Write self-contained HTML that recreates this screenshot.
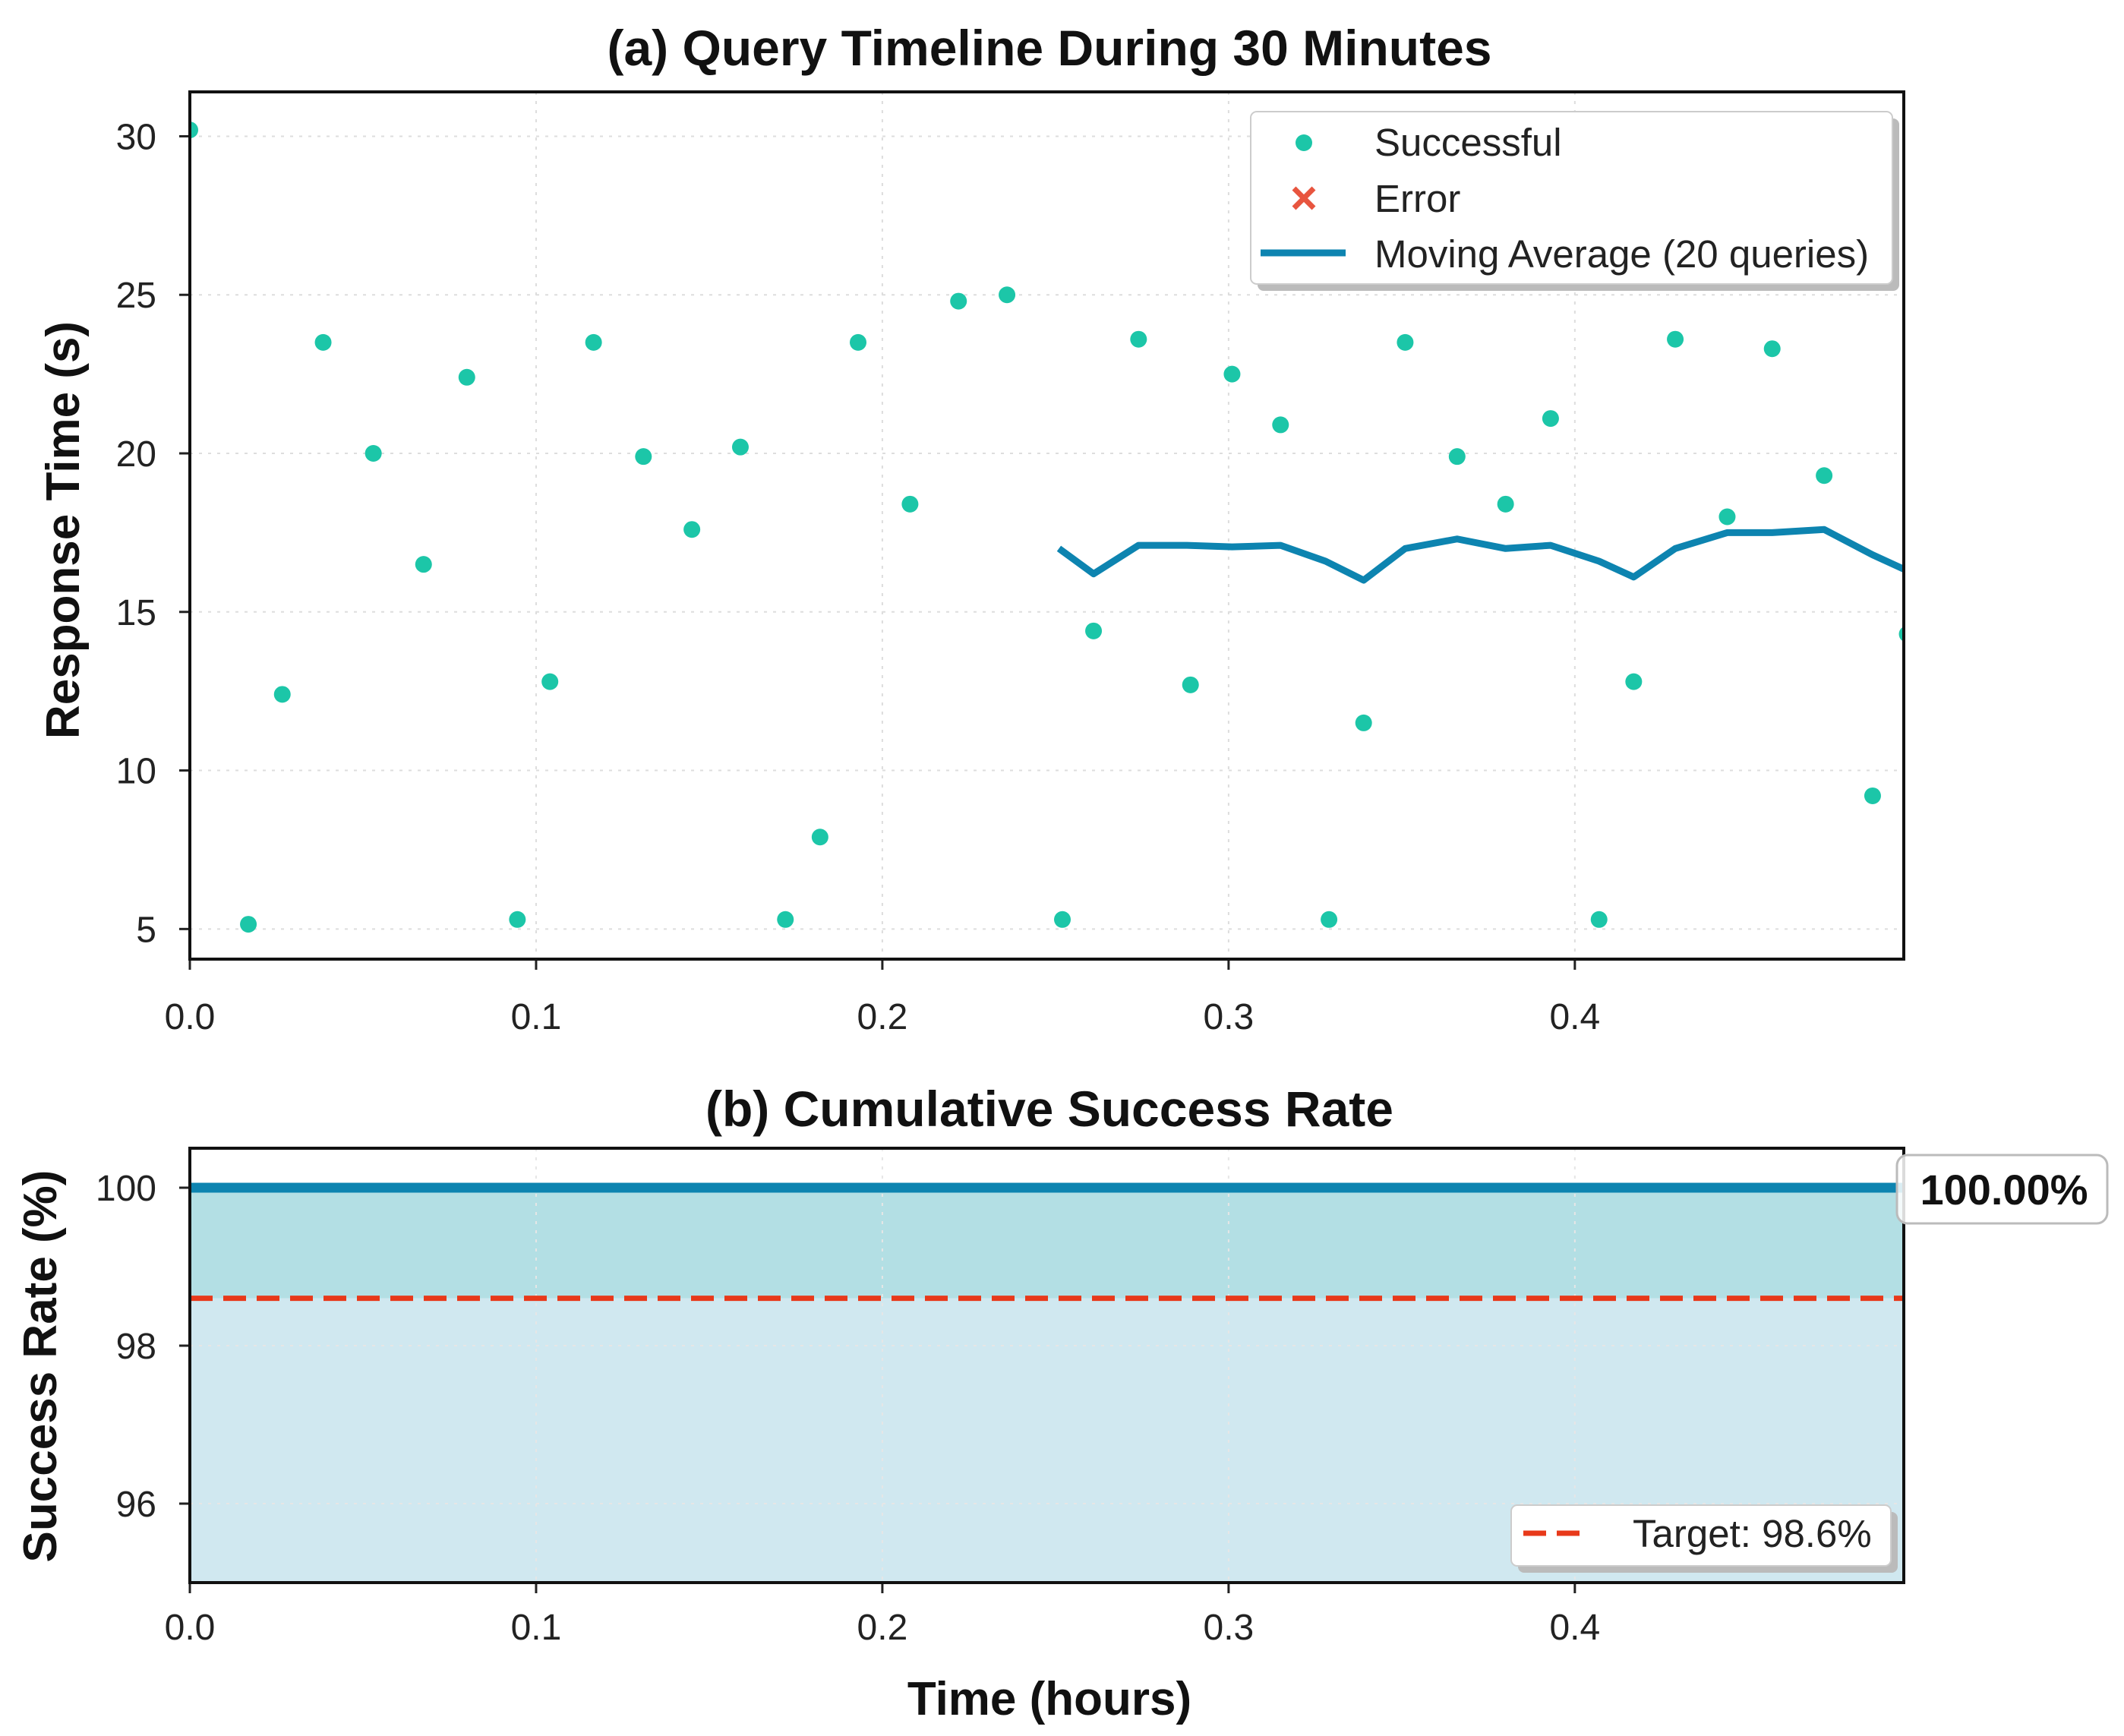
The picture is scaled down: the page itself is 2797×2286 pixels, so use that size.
<!DOCTYPE html>
<html><head><meta charset="utf-8"><style>
html,body{margin:0;padding:0;background:#fff}
svg{display:block;font-family:"Liberation Sans",Arial,sans-serif}
</style></head><body>
<svg id="chart" width="2797" height="2286" viewBox="0 0 2797 2286" xmlns="http://www.w3.org/2000/svg">
<rect width="2797" height="2286" fill="#fff"/>
</svg>
<script>
const timesA=[0,0.0169,0.0267,0.0385,0.053,0.0675,0.080,0.0946,0.104,0.1166,0.131,0.145,0.159,0.172,0.182,0.193,0.208,0.222,0.236,0.252,0.261,0.274,0.289,0.301,0.315,0.329,0.339,0.351,0.366,0.380,0.393,0.407,0.417,0.429,0.444,0.457,0.472,0.486,0.496];
const respA=[30.2,5.15,12.4,23.5,20.0,16.5,22.4,5.3,12.8,23.5,19.9,17.6,20.2,5.3,7.9,23.5,18.4,24.8,25.0,5.3,14.4,23.6,12.7,22.5,20.9,5.3,11.5,23.5,19.9,18.4,21.1,5.3,12.8,23.6,18.0,23.3,19.3,9.2,14.3];
const maTimes=[0.251,0.261,0.274,0.288,0.301,0.315,0.328,0.339,0.351,0.366,0.380,0.393,0.407,0.417,0.429,0.444,0.457,0.472,0.486,0.496];
const maVals=[17.0,16.2,17.1,17.1,17.05,17.1,16.6,16.0,17.0,17.3,17.0,17.1,16.6,16.1,17.0,17.5,17.5,17.6,16.8,16.3];
const xTicks=[0,0.1,0.2,0.3,0.4];
const yTicksA=[5,10,15,20,25,30];
const yTicksB=[96,98,100];
const rateTimes=[0,0.495];
const rateVals=[100,100];
const targetRate=98.6;

const NS="http://www.w3.org/2000/svg";
const svg=document.getElementById('chart');
function mk(tag,attrs,parent,text){const e=document.createElementNS(NS,tag);for(const k in attrs)e.setAttribute(k,attrs[k]);if(text!==undefined)e.textContent=text;(parent||svg).appendChild(e);return e;}
const L=250,R=2507,XMAX=0.495;
const sx=v=>L+(v/XMAX)*(R-L);
const A={t:121,b:1263,y0:4.05,y1:31.4};
const B={t:1512,b:2084,y0:95,y1:100.5};
const syA=v=>A.b-(v-A.y0)/(A.y1-A.y0)*(A.b-A.t);
const syB=v=>B.b-(v-B.y0)/(B.y1-B.y0)*(B.b-B.t);
const TF=48;

let t=mk('text',{x:1382,y:86,'text-anchor':'middle','font-size':66,'font-weight':'bold',fill:'#111'},svg,'(a) Query Timeline During 30 Minutes');

t=mk('text',{x:1382,y:1483,'text-anchor':'middle','font-size':66,'font-weight':'bold',fill:'#111'},svg,'(b) Cumulative Success Rate');


// ---- Panel A ----
const gA=mk('g',{});

xTicks.forEach(v=>{
  const g=mk('line',{x1:sx(v),x2:sx(v),y1:A.t,y2:A.b,stroke:'#ddd','stroke-width':2,'stroke-dasharray':'4 8'},gA);
  
  mk('line',{x1:sx(v),x2:sx(v),y1:A.b,y2:A.b+14,stroke:'#222','stroke-width':3},gA);
  const l=mk('text',{x:sx(v),y:1355,'text-anchor':'middle','font-size':TF,fill:'#222'},gA,v.toFixed(1));
  
});
yTicksA.forEach(v=>{
  const g=mk('line',{x1:L,x2:R,y1:syA(v),y2:syA(v),stroke:'#ddd','stroke-width':2,'stroke-dasharray':'4 8'},gA);
  
  mk('line',{x1:L-14,x2:L,y1:syA(v),y2:syA(v),stroke:'#222','stroke-width':3},gA);
  const l=mk('text',{x:L-44,y:syA(v)+17,'text-anchor':'end','font-size':TF,fill:'#222'},gA,String(v));
  
});
mk('clipPath',{id:'clipA'},svg);
mk('rect',{x:L,y:A.t,width:R-L,height:A.b-A.t},document.getElementById('clipA'));
const dots=mk('g',{'clip-path':'url(#clipA)'},gA);
timesA.forEach((x,i)=>{
  const c=mk('circle',{cx:sx(x),cy:syA(respA[i]),r:11,fill:'#1cc6a8'},dots);
  
});
const ma=mk('polyline',{points:maTimes.map((x,i)=>sx(x)+','+syA(maVals[i])).join(' '),fill:'none',stroke:'#0d84b0','stroke-width':9,'stroke-linejoin':'round','clip-path':'url(#clipA)'},gA);

mk('rect',{x:L,y:A.t,width:R-L,height:A.b-A.t,fill:'none',stroke:'#111','stroke-width':4},gA);
const lg=mk('g',{});

mk('rect',{x:1656,y:156,width:845,height:227,rx:8,fill:'#bbb'},lg);
mk('rect',{x:1647,y:147,width:845,height:227,rx:8,fill:'#fff',stroke:'#ccc','stroke-width':2},lg);
mk('circle',{cx:1717,cy:188,r:11,fill:'#1cc6a8'},lg);
t=mk('text',{x:1810,y:205,'font-size':51,fill:'#222'},lg,'Successful');
mk('path',{d:'M1704 248 L1730 274 M1730 248 L1704 274',stroke:'#e8553f','stroke-width':7},lg);
t=mk('text',{x:1810,y:279,'font-size':51,fill:'#222'},lg,'Error');
mk('line',{x1:1660,x2:1772,y1:333,y2:333,stroke:'#0d84b0','stroke-width':9},lg);
t=mk('text',{x:1810,y:352,'font-size':51,fill:'#222'},lg,'Moving Average (20 queries)');
t=mk('text',{x:0,y:0,'font-size':62,'font-weight':'bold',fill:'#111','text-anchor':'middle',transform:'translate(104,698) rotate(-90)'},svg,'Response Time (s)');


// ---- Panel B ----
const gB=mk('g',{});

const fillLow=mk('rect',{x:sx(rateTimes[0]),y:syB(targetRate),width:sx(rateTimes[1])-sx(rateTimes[0]),height:B.b-syB(targetRate),fill:'#d0e8f0'},gB);

const fillHi=mk('rect',{x:sx(rateTimes[0]),y:syB(rateVals[0]),width:sx(rateTimes[1])-sx(rateTimes[0]),height:syB(targetRate)-syB(rateVals[0]),fill:'#b3dfe4'},gB);

xTicks.forEach(v=>{
  mk('line',{x1:sx(v),x2:sx(v),y1:B.t,y2:B.b,stroke:'#e6e6e6','stroke-width':2,'stroke-dasharray':'4 8'},gB);
  mk('line',{x1:sx(v),x2:sx(v),y1:B.b,y2:B.b+14,stroke:'#222','stroke-width':3},gB);
  const l=mk('text',{x:sx(v),y:2159,'text-anchor':'middle','font-size':TF,fill:'#222'},gB,v.toFixed(1));
  
});
yTicksB.forEach(v=>{
  mk('line',{x1:L,x2:R,y1:syB(v),y2:syB(v),stroke:'#e6e6e6','stroke-width':2,'stroke-dasharray':'4 8'},gB);
  mk('line',{x1:L-14,x2:L,y1:syB(v),y2:syB(v),stroke:'#222','stroke-width':3},gB);
  const l=mk('text',{x:L-44,y:syB(v)+17,'text-anchor':'end','font-size':TF,fill:'#222'},gB,String(v));
  
});
const rl=mk('polyline',{points:rateTimes.map((x,i)=>sx(x)+','+syB(rateVals[i])).join(' '),fill:'none',stroke:'#0d84b0','stroke-width':13},gB);

const tl=mk('line',{x1:L,x2:R,y1:syB(targetRate),y2:syB(targetRate),stroke:'#e8391a','stroke-width':7,'stroke-dasharray':'30 14'},gB);

mk('rect',{x:L,y:B.t,width:R-L,height:B.b-B.t,fill:'none',stroke:'#111','stroke-width':4},gB);
const lb=mk('g',{});

mk('rect',{x:2498,y:1521,width:277,height:90,rx:14,fill:'rgba(255,255,255,0.85)',stroke:'#bbb','stroke-width':3},lb);
mk('text',{x:2639,y:1586,'text-anchor':'middle','font-size':56,'font-weight':'bold',fill:'#111'},lb,rateVals[rateVals.length-1].toFixed(2)+'%');
const lgB=mk('g',{});

mk('rect',{x:1999,y:1991,width:500,height:80,rx:8,fill:'#bbb'},lgB);
mk('rect',{x:1990,y:1982,width:500,height:80,rx:8,fill:'#fff',stroke:'#ccc','stroke-width':2},lgB);
mk('line',{x1:2006,x2:2094,y1:2019,y2:2019,stroke:'#e8391a','stroke-width':7,'stroke-dasharray':'30 14'},lgB);
t=mk('text',{x:2150,y:2037,'font-size':51,fill:'#222'},lgB,'Target: 98.6%');
t=mk('text',{x:0,y:0,'font-size':62,'font-weight':'bold',fill:'#111','text-anchor':'middle',transform:'translate(74,1799) rotate(-90)'},svg,'Success Rate (%)');

t=mk('text',{x:1382,y:2258,'text-anchor':'middle','font-size':62,'font-weight':'bold',fill:'#111'},svg,'Time (hours)');

</script>
</body></html>
